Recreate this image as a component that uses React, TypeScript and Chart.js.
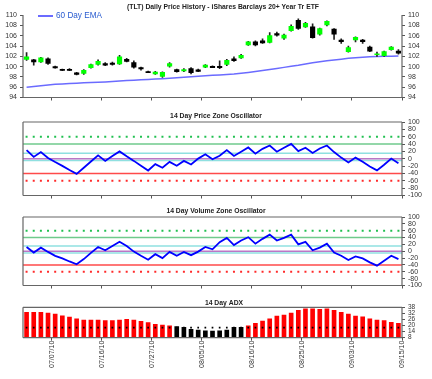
import React, { useEffect, useRef } from "react";
import { Chart, registerables } from "chart.js";

Chart.register(...registerables);

const FONT = "'Liberation Sans', Arial, sans-serif";

const DATES = [
  "07/01/10", "07/02/10", "07/06/10", "07/07/10", "07/08/10", "07/09/10", "07/12/10", "07/13/10",
  "07/14/10", "07/15/10", "07/16/10", "07/19/10", "07/20/10", "07/21/10", "07/22/10", "07/23/10",
  "07/26/10", "07/27/10", "07/28/10", "07/29/10", "07/30/10", "08/02/10", "08/03/10", "08/04/10",
  "08/05/10", "08/06/10", "08/09/10", "08/10/10", "08/11/10", "08/12/10", "08/13/10", "08/16/10",
  "08/17/10", "08/18/10", "08/19/10", "08/20/10", "08/23/10", "08/24/10", "08/25/10", "08/26/10",
  "08/27/10", "08/30/10", "08/31/10", "09/01/10", "09/02/10", "09/03/10", "09/07/10", "09/08/10",
  "09/09/10", "09/10/10", "09/13/10", "09/14/10", "09/15/10",
];

const TICK_DATES = ["07/07/10", "07/16/10", "07/27/10", "08/05/10", "08/16/10", "08/25/10", "09/03/10", "09/15/10"];

const OPEN = [
  101.4, 101.3, 100.9, 101.5, 100.0, 99.45, 99.45, 98.8, 98.7, 99.8, 100.4, 100.6, 100.7, 100.5, 101.4, 100.8,
  99.8, 99.05, 98.6, 98.1, 100.1, 99.4, 99.15, 99.6, 99.35, 99.9, 100.05, 100.05, 100.4, 101.5, 101.7, 104.2,
  104.8, 105.0, 104.7, 106.4, 105.5, 107.0, 109.0, 107.7, 107.7, 106.3, 108.1, 107.3, 105.15, 102.9, 105.2, 105.15,
  103.8, 102.3, 102.1, 103.3, 103.0,
];
const HIGH = [
  102.7, 101.4, 101.8, 101.7, 100.1, 99.5, 99.6, 98.9, 99.4, 100.5, 101.3, 100.8, 100.9, 102.2, 101.6, 101.1,
  99.9, 99.15, 99.1, 99.0, 100.8, 99.5, 99.6, 99.8, 99.5, 100.4, 100.15, 101.1, 101.4, 101.9, 102.4, 104.9,
  105.0, 105.4, 106.6, 106.7, 106.3, 108.1, 109.3, 108.6, 108.3, 107.5, 108.9, 107.4, 105.4, 104.0, 105.8, 105.3,
  104.0, 102.8, 103.0, 103.9, 103.3,
];
const LOW = [
  101.2, 100.3, 100.8, 100.4, 99.7, 99.2, 99.2, 98.4, 98.5, 99.7, 100.3, 100.2, 100.3, 100.4, 100.9, 99.7,
  99.3, 98.8, 98.5, 97.9, 99.9, 98.9, 99.0, 98.6, 99.0, 99.8, 99.8, 99.6, 100.2, 101.0, 101.6, 104.1,
  104.0, 104.5, 104.6, 105.9, 105.3, 106.9, 107.2, 107.6, 105.5, 106.1, 107.9, 105.3, 104.5, 102.8, 104.8, 104.5,
  102.9, 102.0, 102.0, 103.2, 102.4,
];
const CLOSE = [
  101.9, 100.9, 101.7, 100.6, 99.75, 99.25, 99.25, 98.5, 99.3, 100.4, 101.0, 100.3, 100.4, 101.9, 101.0, 99.9,
  99.55, 98.8, 98.95, 98.9, 100.6, 99.0, 99.4, 98.8, 99.05, 100.3, 99.8, 99.8, 101.2, 101.15, 102.2, 104.8,
  104.2, 104.6, 106.0, 106.1, 106.1, 107.8, 107.4, 108.4, 105.6, 107.4, 108.8, 106.3, 104.85, 103.7, 105.7, 104.85,
  103.0, 102.5, 102.9, 103.8, 102.6,
];
const EMA_60 = [
  96.0, 96.15, 96.3, 96.45, 96.55, 96.62, 96.7, 96.77, 96.84, 96.9, 96.95, 97.03, 97.12, 97.2, 97.28, 97.35,
  97.43, 97.5, 97.58, 97.66, 97.75, 97.85, 97.95, 98.05, 98.13, 98.22, 98.3, 98.38, 98.45, 98.55, 98.7, 98.85,
  99.03, 99.23, 99.45, 99.65, 99.85, 100.05, 100.25, 100.5, 100.75, 100.95, 101.15, 101.3, 101.45, 101.6, 101.72, 101.82,
  101.9, 101.95, 102.0, 102.02, 102.05,
];
const PZO = [
  23.6, 4.9, 18.2, 2.2, -9, -19.4, -30.7, -41, -24.4, -7.6, 9.3, -5.8, 7.6, 20, 6.7, -5.8,
  -19.1, -32, -14.7, -24.4, -8.4, -19, -5.8, -15.6, 0.4, 12, -1.3, 8, 23.6, 7.6, 19.1, 30.7,
  13.8, 27, 36, 19, 29.8, 40.5, 20.9, 29.8, 15.6, 28, 36, 18.2, 3.1, -10.2, 3.1, -8.4,
  -20.9, -31.6, -16.4, 0.4, -12,
];
const VZO = [
  12.4, -3.8, 10.5, -1.9, -13.3, -21, -29.8, -38, -22.9, -4.8, 12.4, 2.9, 15.2, 27.6, 15.2, -1,
  -13.3, -24.8, -8.6, -20, -1.9, -13.3, -1.9, -11.4, -1, 12.4, 5.7, 26.7, 39, 18, 31.4, 41,
  22, 36.2, 48.6, 31.4, 39, 48.6, 20, 27.6, 2.9, 10.5, 22, -3.8, -13.3, -25.7, -15.2, -21,
  -32.4, -42, -27.6, -13.3, -22.9,
];
const ADX = [
  33.1, 33.1, 33.1, 32.4, 31.4, 29.7, 28.4, 26.5, 25.5, 25.5, 25.5, 24.8, 24.8, 25.5, 26.2, 25.5,
  24.2, 22.8, 21.2, 20.5, 19.8, 18.9, 18.3, 16.3, 15.6, 14.9, 14.6, 14.9, 15.6, 18.3, 18.3, 19.8,
  22.2, 24.5, 26.5, 29.4, 30.4, 32.4, 35, 36.6, 36.6, 36, 36.6, 35, 33.1, 31.4, 29.4, 28.7,
  26.5, 25.5, 24.8, 23.2, 22.2,
];

const PRICE_TITLE = "(TLT) Daily Price History - iShares Barclays 20+ Year Tr ETF";
const EMA_LABEL = "60 Day EMA";
const PZO_TITLE = "14 Day Price Zone Oscillator";
const VZO_TITLE = "14 Day Volume Zone Oscillator";
const ADX_TITLE = "14 Day ADX";

const ZONE_LINES = [
  { value: 40, color: "#6fca8c" },
  { value: 15, color: "#8fe0e0" },
  { value: 0, color: "#bb77c6" },
  { value: -5, color: "#8fe0e0" },
  { value: -40, color: "#ff4a4a" },
];
const ZONE_DOTS = [
  { value: 60, color: "#20c050" },
  { value: -60, color: "#ff2a2a" },
];
const ADX_LEVEL = 18;
const ADX_TREND = 19.5;

const N = DATES.length;
const XS = DATES.map((_, i) => i + 0.5);
const TICK_VALUES = TICK_DATES.map((d) => DATES.indexOf(d) + 1);

function xAxis(height: number, showLabels: boolean) {
  return {
    type: "linear",
    min: 0,
    max: N,
    offset: false,
    afterBuildTicks: (s: any) => {
      s.ticks = TICK_VALUES.map((v) => ({ value: v }));
    },
    afterFit: (s: any) => {
      s.height = height;
    },
    grid: { display: true, drawOnChartArea: false, drawTicks: true, tickLength: 3, color: "#555", offset: false },
    border: { display: false },
    ticks: {
      display: showLabels,
      autoSkip: false,
      maxRotation: 90,
      minRotation: 90,
      padding: 0,
      color: "#333",
      font: { family: FONT, size: 7, lineHeight: 1 },
      callback: (v: any) => DATES[Number(v) - 1] ?? "",
    },
  };
}

function yAxis(position: string, min: number, max: number, step: number, width: number, show: boolean, size = 7) {
  return {
    type: "linear",
    position,
    min,
    max,
    afterFit: (s: any) => {
      s.width = width;
    },
    grid: { display: show, drawOnChartArea: false, drawTicks: true, tickLength: 3, color: "#555" },
    border: { display: false },
    ticks: {
      display: show,
      stepSize: step,
      autoSkip: false,
      padding: 3,
      color: "#333",
      font: { family: FONT, size, lineHeight: 1 },
    },
  };
}

function title(text: string, top: number, bottom: number) {
  return {
    display: true,
    text,
    color: "#222",
    font: { family: FONT, size: 6.8, weight: "bold", lineHeight: 1 },
    padding: { top, bottom },
  };
}

function framePlugin(sides: string) {
  return {
    id: "frame",
    afterDatasetsDraw(chart: any) {
      const { ctx, chartArea: a } = chart;
      ctx.save();
      ctx.strokeStyle = "#666";
      ctx.lineWidth = 1.2;
      ctx.beginPath();
      if (sides.includes("t")) { ctx.moveTo(a.left, a.top); ctx.lineTo(a.right, a.top); }
      if (sides.includes("b")) { ctx.moveTo(a.left, a.bottom); ctx.lineTo(a.right, a.bottom); }
      if (sides.includes("l")) { ctx.moveTo(a.left, a.top); ctx.lineTo(a.left, a.bottom); }
      if (sides.includes("r")) { ctx.moveTo(a.right, a.top); ctx.lineTo(a.right, a.bottom); }
      ctx.stroke();
      ctx.restore();
    },
  };
}

const basePlugins = { legend: { display: false }, tooltip: { enabled: false } };

function priceConfig(): any {
  const up = OPEN.map((o, i) => CLOSE[i] >= o);
  return {
    type: "bar",
    data: {
      datasets: [
        {
          type: "bar",
          label: "Body",
          data: XS.map((x, i) => ({ x, y: [OPEN[i], CLOSE[i]] })),
          backgroundColor: up.map((u) => (u ? "#00ff00" : "#000000")),
          borderWidth: 0,
          barThickness: 4.5,
          grouped: false,
          order: 1,
          yAxisID: "y",
        },
        {
          type: "bar",
          label: "Range",
          data: XS.map((x, i) => ({ x, y: [LOW[i], HIGH[i]] })),
          backgroundColor: "#222",
          borderWidth: 0,
          barThickness: 1,
          grouped: false,
          order: 2,
          yAxisID: "y",
        },
        {
          type: "line",
          label: EMA_LABEL,
          data: XS.map((x, i) => ({ x, y: EMA_60[i] })),
          borderColor: "#6b6bff",
          borderWidth: 1.5,
          pointRadius: 0,
          order: 3,
          yAxisID: "y",
        },
      ],
    },
    options: {
      responsive: false,
      animation: false,
      layout: { padding: 0 },
      plugins: { ...basePlugins, title: title(PRICE_TITLE, 3.3, 5.0) },
      scales: {
        x: xAxis(6, false),
        y: yAxis("left", 94, 110, 2, 23, true),
        y2: yAxis("right", 94, 110, 2, 44, true),
      },
    },
    plugins: [framePlugin("lrb")],
  };
}

function zoneConfig(text: string, values: number[], top: number, bottom: number): any {
  return {
    type: "line",
    data: {
      datasets: [
        {
          label: text,
          data: XS.map((x, i) => ({ x, y: values[i] })),
          borderColor: "#0000ff",
          borderWidth: 1.8,
          pointRadius: 0,
          order: 0,
          yAxisID: "y",
        },
        ...ZONE_LINES.map((l) => ({
          label: String(l.value),
          data: [{ x: 0, y: l.value }, { x: N, y: l.value }],
          borderColor: l.color,
          borderWidth: 1.5,
          pointRadius: 0,
          order: 5,
          yAxisID: "y",
        })),
        ...ZONE_DOTS.map((d) => ({
          label: String(d.value),
          data: XS.map((x) => ({ x, y: d.value })),
          showLine: false,
          pointStyle: "rect",
          pointRadius: 1.4,
          pointBorderWidth: 0,
          pointBackgroundColor: d.color,
          order: 5,
          yAxisID: "y",
        })),
      ],
    },
    options: {
      responsive: false,
      animation: false,
      layout: { padding: 0 },
      plugins: { ...basePlugins, title: title(text, top, bottom) },
      scales: {
        x: xAxis(5, false),
        yl: yAxis("left", -100, 100, 20, 23, false),
        y: yAxis("right", -100, 100, 20, 30, true),
      },
    },
    plugins: [framePlugin("tblr")],
  };
}

function adxConfig(): any {
  return {
    type: "bar",
    data: {
      datasets: [
        {
          type: "bar",
          label: ADX_TITLE,
          data: XS.map((x, i) => ({ x, y: ADX[i] })),
          backgroundColor: ADX.map((v) => (v >= ADX_TREND ? "#ff0000" : "#000000")),
          borderWidth: 0,
          barThickness: 4,
          grouped: false,
          order: 2,
          yAxisID: "y",
        },
        {
          type: "line",
          label: "Level",
          data: XS.map((x) => ({ x, y: ADX_LEVEL })),
          showLine: false,
          pointStyle: "rect",
          pointRadius: 1.2,
          pointBorderWidth: 0,
          pointBackgroundColor: "#000",
          order: 1,
          yAxisID: "y",
        },
      ],
    },
    options: {
      responsive: false,
      animation: false,
      layout: { padding: 0 },
      plugins: { ...basePlugins, title: title(ADX_TITLE, 7.4, 1.1) },
      scales: {
        x: xAxis(41.3, true),
        yl: yAxis("left", 8, 38, 6, 23, false),
        y: yAxis("right", 8, 38, 6, 46, true, 6.5),
      },
    },
    plugins: [framePlugin("tblr")],
  };
}

function ChartCanvas({ top, width, height, make }: { top: number; width: number; height: number; make: () => any }) {
  const ref = useRef<HTMLCanvasElement>(null);
  useEffect(() => {
    const chart = new Chart(ref.current as HTMLCanvasElement, make());
    return () => chart.destroy();
  }, []);
  return (
    <canvas
      ref={ref}
      width={width}
      height={height}
      style={{ position: "absolute", left: 0, top, width, height, display: "block" }}
    />
  );
}

export default function App() {
  return (
    <div style={{ position: "fixed", left: 0, top: 0, width: 432, height: 379, background: "#fff", overflow: "hidden" }}>
      <ChartCanvas top={0} width={446} height={104} make={priceConfig} />
      <ChartCanvas top={104} width={432} height={98} make={() => zoneConfig(PZO_TITLE, PZO, 8.6, 2.6)} />
      <ChartCanvas top={202} width={432} height={90} make={() => zoneConfig(VZO_TITLE, VZO, 5.6, 2.6)} />
      <ChartCanvas top={292} width={448} height={87} make={adxConfig} />
      <div
        style={{
          position: "absolute",
          left: 38,
          top: 15,
          width: 15,
          height: 1.5,
          background: "#6b6bff",
        }}
      />
      <div
        style={{
          position: "absolute",
          left: 56,
          top: 11,
          fontFamily: FONT,
          fontSize: 8.2,
          lineHeight: "9px",
          color: "#2a5cd0",
          whiteSpace: "nowrap",
        }}
      >
        {EMA_LABEL}
      </div>
    </div>
  );
}
